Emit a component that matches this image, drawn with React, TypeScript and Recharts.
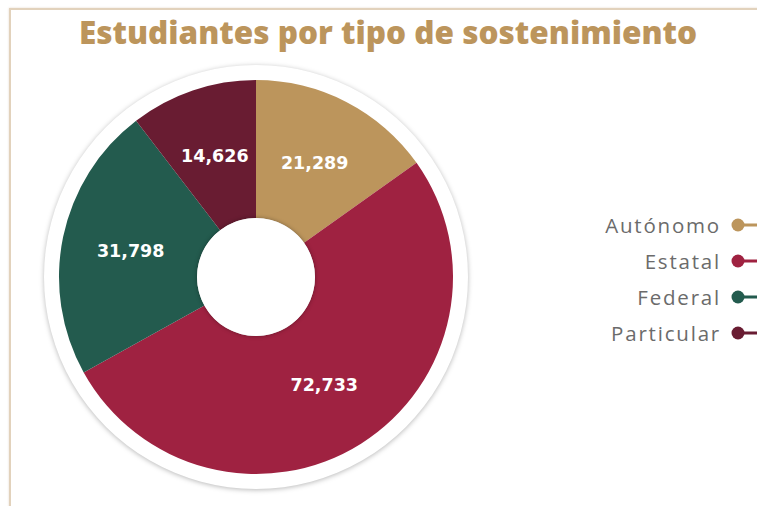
import React from 'react';
import { PieChart, Pie, Cell, Legend } from 'recharts';

const categories = ['Autónomo', 'Estatal', 'Federal', 'Particular'];
const values = [21289, 72733, 31798, 14626];
const colors = ['#BC955C', '#9F2241', '#235B4E', '#691C32'];
const title = 'Estudiantes por tipo de sostenimiento';

const data = categories.map((name, i) => ({ name, value: values[i] }));
const ringData = [{ name: 'ring', value: 1 }];

const RAD = Math.PI / 180;
const CX = 256;
const CY = 277;

const renderLabel = (props: any) => {
  const { cx, cy, midAngle, innerRadius, outerRadius, value } = props;
  const r = (innerRadius + outerRadius) / 2;
  const x = cx + r * Math.cos(-midAngle * RAD);
  const y = cy + r * Math.sin(-midAngle * RAD);
  return (
    <text
      x={x}
      y={y}
      fill="#ffffff"
      textAnchor="middle"
      dominantBaseline="central"
      fontFamily="'DejaVu Sans', sans-serif"
      fontWeight={700}
      fontSize={17.5}
    >
      {value.toLocaleString('en-US')}
    </text>
  );
};

const renderLegend = () => (
  <div style={{ display: 'flex', flexDirection: 'column', alignItems: 'flex-end' }}>
    {categories.map((c, i) => (
      <div
        key={c}
        style={{ display: 'flex', alignItems: 'center', height: 36, justifyContent: 'flex-end' }}
      >
        <span
          style={{
            fontFamily: "'Open Sans', sans-serif",
            fontSize: 20.5,
            letterSpacing: 1.8,
            color: '#6b6b6b',
            marginRight: 10,
          }}
        >
          {c}
        </span>
        <svg width={26} height={14}>
          <rect x={6} y={5.5} width={20} height={3} fill={colors[i]} />
          <circle cx={7} cy={7} r={6.5} fill={colors[i]} />
        </svg>
      </div>
    ))}
  </div>
);

export default function App() {
  return (
    <div
      style={{
        position: 'absolute',
        top: 0,
        left: 0,
        width: 757,
        height: 506,
        overflow: 'hidden',
        background: '#ffffff',
      }}
    >
      <div
        style={{
          position: 'absolute',
          top: 8,
          left: 9,
          width: 800,
          height: 600,
          borderTop: '2px solid #E2D2BC',
          borderLeft: '2px solid #E2D2BC',
          boxShadow: '0 0 2px rgba(180,150,110,0.35)',
        }}
      />
      <div
        style={{
          position: 'absolute',
          top: 10,
          left: 0,
          width: 776,
          textAlign: 'center',
          fontFamily: "'Open Sans', sans-serif",
          fontWeight: 800,
          fontSize: 31.5,
          color: '#BC955C',
          whiteSpace: 'nowrap',
        }}
      >
        {title}
      </div>
      <div style={{ position: 'absolute', top: 0, left: 0 }}>
        <PieChart width={757} height={506} margin={{ top: 0, right: 0, bottom: 0, left: 0 }}>
          <Pie
            data={ringData}
            dataKey="value"
            cx={CX}
            cy={CY}
            innerRadius={0}
            outerRadius={212}
            fill="#ffffff"
            stroke="none"
            isAnimationActive={false}
            style={{ filter: 'drop-shadow(0px 1px 2.5px rgba(0,0,0,0.28))' }}
          />
          <Pie
            data={data}
            dataKey="value"
            nameKey="name"
            cx={CX}
            cy={CY}
            innerRadius={59}
            outerRadius={197}
            startAngle={90}
            endAngle={-270}
            stroke="none"
            label={renderLabel}
            labelLine={false}
            isAnimationActive={false}
          >
            {data.map((d, i) => (
              <Cell key={d.name} fill={colors[i]} />
            ))}
          </Pie>
          <Pie
            data={ringData}
            dataKey="value"
            cx={CX}
            cy={CY}
            innerRadius={0}
            outerRadius={59}
            fill="#ffffff"
            stroke="none"
            isAnimationActive={false}
            style={{ filter: 'drop-shadow(0px 0px 2px rgba(0,0,0,0.35))' }}
          />
          <Legend
            content={renderLegend}
            wrapperStyle={{ position: 'absolute', top: 207, right: 0, left: 'auto', width: 260 }}
          />
        </PieChart>
      </div>
    </div>
  );
}
